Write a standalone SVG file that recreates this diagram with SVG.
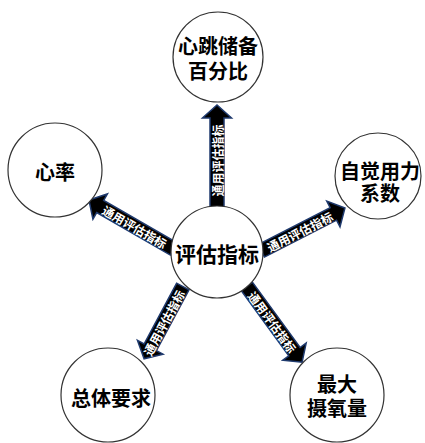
<svg xmlns="http://www.w3.org/2000/svg" width="425" height="443" viewBox="0 0 425 443">
<style>
.node circle{fill:#fff;stroke:#333;stroke-width:1.2}
.node text{font-family:"Noto Sans CJK SC","Liberation Sans",sans-serif;font-weight:700;font-size:20px;fill:#000;text-anchor:middle;dominant-baseline:central}
.arr path{fill:#000;stroke:#1f3a6e;stroke-width:1.5;stroke-linejoin:miter}
.arr text{font-family:"Noto Sans CJK SC","Liberation Sans",sans-serif;font-weight:700;font-size:12px;fill:#fff;text-anchor:middle;dominant-baseline:central}
</style>
<rect width="425" height="443" fill="#fff"/>
<g id="connectors" class="arr">
  <g transform="translate(217,155.5) rotate(-90)">
    <path d="M-52,-7 L37.5,-7 L37.5,-14.5 L50.5,0 L37.5,14.5 L37.5,7 L-52,7Z"/>
    <text x="-5" y="0">通用评估指标</text>
  </g>
  <g transform="translate(130.5,224) rotate(30)">
    <path d="M50,-7 L-35,-7 L-35,-14.5 L-48,0 L-35,14.5 L-35,7 L50,7Z"/>
    <text x="5" y="0">通用评估指标</text>
  </g>
  <g transform="translate(304,229) rotate(-27.1)">
    <path d="M-48,-7 L33,-7 L33,-14.5 L46,0 L33,14.5 L33,7 L-48,7Z"/>
    <text x="-5" y="0">通用评估指标</text>
  </g>
  <g transform="translate(163,323.5) rotate(-61.8)">
    <path d="M42,-7 L-27,-7 L-27,-14.5 L-40,0 L-27,14.5 L-27,7 L42,7Z"/>
    <text x="1" y="0">通用评估指标</text>
  </g>
  <g transform="translate(275,325) rotate(53.9)">
    <path d="M-48,-7 L33,-7 L33,-14.5 L46,0 L33,14.5 L33,7 L-48,7Z"/>
    <text x="-4" y="0">通用评估指标</text>
  </g>
</g>
<g id="center" class="node">
  <circle cx="217" cy="252" r="46"/>
  <text x="217" y="253" style="font-size:21px">评估指标</text>
</g>
<g id="top" class="node">
  <circle cx="218" cy="57" r="45"/>
  <text x="218" y="45"><tspan x="218" y="45">心跳储备</tspan><tspan x="218" y="70">百分比</tspan></text>
</g>
<g id="left" class="node">
  <circle cx="55" cy="170" r="47"/>
  <text x="55" y="171">心率</text>
</g>
<g id="right" class="node">
  <circle cx="378" cy="176" r="43"/>
  <text x="380" y="170"><tspan x="380" y="170">自觉用力</tspan><tspan x="380" y="192">系数</tspan></text>
</g>
<g id="bottomleft" class="node">
  <circle cx="108" cy="395" r="47"/>
  <text x="111" y="397">总体要求</text>
</g>
<g id="bottomright" class="node">
  <circle cx="337" cy="395" r="47"/>
  <text x="337" y="383"><tspan x="337" y="383">最大</tspan><tspan x="337" y="407">摄氧量</tspan></text>
</g>
</svg>
